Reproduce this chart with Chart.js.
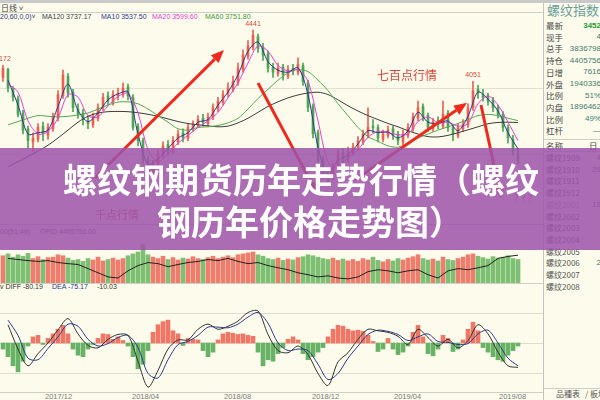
<!DOCTYPE html>
<html>
<head>
<meta charset="utf-8">
<script src="https://cdn.jsdelivr.net/npm/chart.js@4.4.1/dist/chart.umd.min.js"></script>
<style>
  body { margin: 0; background: #fdfcec; }
  #wrap { position: relative; width: 600px; height: 400px; overflow: hidden; background: #fdfcec;
          font-family: "Noto Sans CJK SC", "Liberation Sans", sans-serif; }
  canvas { position: absolute; left: 0; }
  .t { position: absolute; white-space: nowrap; line-height: 1; }
  .sm { font-family: "Liberation Sans", sans-serif; font-size: 7px; }
  .row { position: absolute; left: 546px; font-size: 8.5px; color: #4a4a4a; line-height: 1; white-space: nowrap; }
  .val { position: absolute; right: -1px; font-family: "Liberation Sans", sans-serif; font-size: 8px; color: #3f7b70; line-height: 1; text-align: right; }
  .line { position: absolute; background: #cfcfc4; }
  #banner { position: absolute; left: 0; top: 148px; width: 600px; height: 102px; background: rgba(158, 84, 170, 0.86); }
  .bt { position: absolute; color: #fff; font-weight: 700; font-size: 34px; line-height: 1; white-space: nowrap;
        font-family: "Noto Sans CJK SC", sans-serif; }
</style>
</head>
<body>
<div id="wrap">
  <!-- top bar + toolbar -->
  <div class="line" style="left:0;top:0;width:600px;height:3px;background:#c9c9c9"></div>
  <div class="t" style="left:1px;top:4px;font-size:8px;color:#444">日线 ˅</div>
  <div class="line" style="left:0;top:12px;width:543px;height:1px"></div>
  <div class="line" style="left:543px;top:3px;width:1px;height:397px;background:#c4c4ba"></div>

  <!-- MA legend -->
  <div class="t sm" style="left:0;top:13px;color:#34347a">20,60,0,0)˅</div>
  <div class="t sm" style="left:42px;top:13px;color:#3c3c50">MA120 3737.17</div>
  <div class="t sm" style="left:101px;top:13px;color:#2b3990">MA10 3537.50</div>
  <div class="t sm" style="left:152px;top:13px;color:#e040d8">MA20 3599.60</div>
  <div class="t sm" style="left:205px;top:13px;color:#3f9a44">MA60 3751.80</div>

  <canvas id="price" width="543" height="204" style="top:20px"></canvas>
  <div class="line" style="left:0;top:224px;width:543px;height:1px"></div>

  <!-- volume legend -->
  <div class="t sm" style="left:0;top:228px;color:#666">00(51:49)</div>
  <div class="t sm" style="left:40px;top:228px;color:#666">OPID 4405756.00</div>
  <canvas id="vol" width="543" height="47" style="top:236px"></canvas>
  <div class="line" style="left:0;top:283px;width:543px;height:1px"></div>

  <!-- MACD legend -->
  <div class="t sm" style="left:0;top:283px;color:#333">v DIFF -80.19</div>
  <div class="t sm" style="left:52px;top:283px;color:#2b3990">DEA -75.17</div>
  <div class="t sm" style="left:97px;top:283px;color:#333">-10.03</div>
  <canvas id="macd" width="543" height="102" style="top:290px"></canvas>
  <div class="line" style="left:0;top:392px;width:543px;height:1px"></div>
  <div id="dates"></div>

  <!-- right panel -->
  <div class="t" style="left:547px;top:3px;font-size:13px;color:#6b9c99">螺纹指数</div>
  <div id="panel"></div>
  <div class="line" style="left:544px;top:139px;width:56px;height:1px"></div>
  <div class="row" style="top:141px">名称</div>
  <div class="row" style="top:141px;left:589px">日</div>
  <div class="line" style="left:544px;top:151px;width:56px;height:1px"></div>
  <div id="contracts"></div>
  <div class="t" style="left:556px;top:390px;font-size:8px;color:#555">品種表</div>
  <div class="t" style="left:585px;top:390px;font-size:8px;color:#555">/ 板塊</div>
  <div class="line" style="left:544px;top:388px;width:56px;height:1px"></div>

  <div id="banner">
    <div class="bt" style="left:63px;top:14px">螺纹钢期货历年走势行情（螺纹</div>
    <div class="bt" style="left:157px;top:56px">钢历年价格走势图）</div>
  </div>
</div>

<script>
// candles, one per ~5 trading days
const open = [4080,4140,3990,3920,3810,3690,3590,3610,3710,3640,3690,3770,3940,4090,3970,3840,3810,3750,3720,3770,
  3850,3940,3890,3940,3950,4010,3930,3710,3600,3460,3370,3410,3490,3570,3520,3590,3660,3620,3690,3720,
  3770,3730,3780,3840,3890,3960,3990,4040,4140,4240,4310,4390,4310,4260,4160,4110,4160,4090,4150,4120,
  4170,4040,3860,3660,3460,3340,3330,3390,3510,3450,3510,3550,3590,3640,3710,3700,3610,3640,3690,3650,
  3590,3640,3690,3770,3860,3790,3690,3750,3710,3810,3700,3640,3690,3720,3850,3990,3950,3940,3910,3850,
  3800,3700,3610,3510];
const high = [4172,4150,4010,3940,3830,3710,3660,3730,3740,3730,3810,3980,4137,4110,3990,3880,3840,3790,3810,3880,
  3960,3970,3980,4000,4040,4030,3950,3730,3620,3480,3450,3530,3590,3600,3630,3680,3690,3730,3750,3790,
  3800,3810,3880,3930,3980,4040,4090,4190,4290,4360,4441,4410,4340,4280,4190,4190,4180,4170,4180,4230,
  4190,4060,3880,3680,3480,3390,3430,3530,3540,3550,3580,3630,3680,3850,3760,3720,3680,3710,3710,3670,
  3680,3730,3810,3900,3880,3810,3770,3780,3900,3830,3720,3730,3760,3880,4051,4020,3990,3960,3930,3870,
  3820,3720,3640,3540];
const low = [4050,3970,3900,3780,3650,3540,3520,3590,3600,3610,3670,3750,3920,3930,3820,3770,3720,3690,3700,3750,
  3830,3870,3870,3910,3930,3910,3680,3560,3420,3330,3340,3390,3470,3490,3500,3570,3590,3600,3670,3700,
  3710,3710,3760,3820,3870,3930,3970,4020,4120,4220,4290,4270,4210,4120,4080,4090,4060,4070,4100,4100,
  4020,3820,3620,3420,3310,3260,3300,3380,3420,3430,3490,3530,3570,3620,3660,3590,3590,3620,3610,3570,
  3570,3620,3670,3750,3750,3670,3670,3690,3690,3670,3600,3620,3670,3700,3830,3920,3900,3870,3820,3770,
  3670,3580,3490,3420];
const close = [4150,4000,3930,3800,3680,3600,3620,3700,3650,3700,3780,3950,4100,3960,3850,3800,3760,3730,3780,3850,
  3930,3900,3950,3960,4000,3940,3700,3600,3450,3380,3420,3500,3560,3520,3600,3650,3620,3700,3720,3760,
  3740,3780,3850,3900,3950,4000,4050,4150,4250,4320,4400,4300,4250,4150,4120,4150,4100,4140,4130,4180,
  4050,3850,3650,3450,3350,3320,3400,3500,3450,3520,3550,3600,3650,3700,3700,3620,3650,3680,3640,3600,
  3650,3700,3780,3850,3780,3700,3740,3720,3800,3700,3650,3700,3720,3850,3980,3960,3930,3900,3850,3800,
  3700,3620,3520,3452];
const volume = [58,62,55,60,57,63,52,56,50,54,55,60,58,53,48,50,46,52,49,55,
  47,50,53,49,52,58,62,66,83,60,55,52,57,50,54,49,53,51,56,52,
  50,54,57,52,55,58,54,60,62,64,66,60,57,52,50,53,48,51,49,54,
  56,60,58,55,52,50,53,48,51,47,50,46,52,49,55,48,45,50,47,52,
  49,53,56,60,52,49,51,47,55,50,48,52,55,60,62,57,54,51,56,53,
  55,58,52,50];

// moving averages and open interest, every second candle (candles 1, 3, 5 ... 103)
const ma10 = [4060,3870,3650,3660,3680,3860,4030,3830,3745,3810,3910,3955,3970,3650,3420,3460,3540,3620,3660,3740,
  3760,3870,3970,4100,4280,4350,4200,4135,4120,4155,3950,3550,3335,3450,3490,3575,3675,3660,3665,3620,
  3675,3815,3740,3730,3750,3675,3785,3970,3915,3825,3660,3537];
const ma20 = [4030,3970,3750,3650,3670,3770,3950,3930,3790,3780,3865,3935,3960,3810,3530,3440,3500,3580,3640,3700,
  3750,3815,3925,4040,4190,4320,4280,4170,4130,4140,4050,3750,3440,3390,3470,3530,3625,3670,3660,3645,
  3650,3745,3780,3735,3740,3710,3730,3880,3940,3870,3740,3600];
const ma60 = [3720,3745,3770,3790,3785,3780,3785,3795,3810,3840,3870,3893,3895,3880,3840,3790,3740,3690,3680,3700,
  3705,3715,3735,3770,3840,3920,3990,4060,4115,4140,4125,4060,3980,3880,3790,3700,3630,3595,3560,3550,
  3580,3620,3650,3680,3705,3730,3760,3790,3800,3790,3770,3752];
const ma120 = [3400,3440,3480,3520,3565,3620,3680,3740,3785,3810,3820,3822,3820,3812,3800,3785,3765,3745,3730,3720,
  3712,3705,3710,3735,3770,3815,3860,3895,3925,3947,3962,3968,3950,3910,3865,3825,3790,3760,3730,3705,
  3675,3650,3630,3628,3640,3660,3682,3705,3728,3738,3740,3737];
const openInt = [429,425,421,418,421,414,410,407,392,377,362,358,384,403,414,410,399,407,414,418,
  425,421,429,418,410,414,403,395,388,377,370,362,366,358,355,362,381,388,384,377,
  384,388,370,358,384,392,388,395,403,429,436,440.6];
const diff = [60,-20,-75,-35,0,43,80,30,-8,-16,12,28,25,-60,-145,-90,-20,10,10,45,
  62,45,55,72,100,105,28,-25,-32,-10,-38,-100,-140,-62,-32,12,45,40,35,22,
  -5,45,18,-10,12,-16,8,60,30,-30,-75,-80.19];
const dea = [75,25,-50,-55,-18,20,62,55,12,-10,-2,18,25,-15,-100,-115,-55,-5,5,25,
  52,52,50,62,85,100,65,0,-25,-20,-25,-70,-120,-100,-50,-10,28,42,38,28,
  8,20,30,5,2,-5,-2,30,42,0,-50,-75.17];
// MACD bars, one per candle
const macd = [-20,-45,-75,-95,-60,-10,20,25,-5,15,30,45,58,30,-20,-40,-45,-20,-5,15,
  30,28,12,20,8,-10,-45,-85,-70,-25,35,60,70,75,40,30,-8,15,12,10,
  -25,-45,-30,10,30,35,32,28,30,25,22,-30,-75,-55,-60,-35,-15,12,20,10,
  -35,-55,-45,-30,-15,20,45,58,55,45,40,42,38,25,5,-28,-20,15,-20,-38,
  -30,-10,35,58,20,-35,-42,-20,25,15,-28,-20,10,45,68,40,-15,-30,-45,-55,
  -60,-40,-25,-10.03];

const tickIdx = [11, 28.4, 46.8, 64.4, 80.8, 101.8];
const tickLabels = ['2017/12', '2018/04', '2018/08', '2018/12', '2019/04', '2019/08'];

// notes drawn on the price panel: [candle, price, text]
const peakNotes = [[0, 4172, '4172'], [50, 4441, '4441'], [94, 4051, '4051']];
const textNotes = [[80.8, 4099, '七百点行情', 12], [22.8, 3034, '千点行情', 11], [104, 3163, '? ? ?', 10]];
const arrows = [[18.4, 3316, 44.2, 4289], [51, 4038, 63, 3186], [70.4, 3300, 92.8, 3887], [95.6, 3871, 99.6, 3163]];

const panelLabels = ['最新', '现手', '总手', '持仓', '日增', '外盘', '比例', '内盘', '比例', '杠杆'];
const panelValues = ['3452', '4', '3836798', '4405756', '7616', '1940336', '51%', '1896462', '49%', '—'];
const contracts = ['螺纹1909', '螺纹1910', '螺纹1911', '螺纹1912', '螺纹2001', '螺纹2002', '螺纹2003', '螺纹2004',
  '螺纹2005', '螺纹2006', '螺纹2007', '螺纹2008'];
const contractValues = ['4', '29', '', '', '18', '', '', '', '', '2', '', ''];

const UP = '#ec6050';
const DOWN = '#4ea454';
const candleColors = close.map((c, i) => c >= open[i] ? UP : DOWN);
const volColors = close.map((c, i) => c >= open[i] ? '#ef7c6c' : '#7dbf73');

const idx = close.map((c, i) => i);
const everyOther = arr => arr.map((v, j) => ({ x: 2 * j + 1, y: v }));

const xScale = { type: 'linear', min: -0.6, max: 108, display: false, offset: false, grid: { offset: false } };
const baseOptions = {
  responsive: false,
  animation: false,
  events: [],
  layout: { padding: 0 },
  plugins: { legend: { display: false }, tooltip: { enabled: false } }
};

// horizontal guide lines at given values
function guideLines(id, values, color) {
  return {
    id: id,
    beforeDatasetsDraw(chart) {
      const { ctx, chartArea, scales } = chart;
      ctx.save();
      ctx.strokeStyle = color;
      ctx.lineWidth = 1;
      values.forEach(v => {
        const y = Math.round(scales.y.getPixelForValue(v)) + 0.5;
        ctx.beginPath();
        ctx.moveTo(chartArea.left, y);
        ctx.lineTo(chartArea.right, y);
        ctx.stroke();
      });
      ctx.restore();
    }
  };
}

function drawArrow(ctx, x1, y1, x2, y2) {
  const a = Math.atan2(y2 - y1, x2 - x1);
  const len = 13, w = 5.5;
  const bx = x2 - len * Math.cos(a), by = y2 - len * Math.sin(a);
  ctx.beginPath();
  ctx.moveTo(x1, y1);
  ctx.lineTo(bx, by);
  ctx.stroke();
  ctx.beginPath();
  ctx.moveTo(x2, y2);
  ctx.lineTo(bx + w * Math.sin(a), by - w * Math.cos(a));
  ctx.lineTo(bx - w * Math.sin(a), by + w * Math.cos(a));
  ctx.closePath();
  ctx.fill();
}

const notesPlugin = {
  id: 'notes',
  afterDatasetsDraw(chart) {
    const { ctx, scales: { x, y } } = chart;
    ctx.save();
    ctx.textAlign = 'center';
    ctx.textBaseline = 'middle';
    ctx.fillStyle = '#d8453a';
    ctx.font = '7px "Liberation Sans"';
    peakNotes.forEach(n => ctx.fillText(n[2], x.getPixelForValue(n[0]), y.getPixelForValue(n[1]) - 6));
    textNotes.forEach(n => {
      ctx.font = n[3] + 'px "Noto Sans CJK SC"';
      ctx.fillStyle = n[2] === '? ? ?' ? '#e0407a' : '#e0443a';
      ctx.fillText(n[2], x.getPixelForValue(n[0]), y.getPixelForValue(n[1]));
    });
    ctx.strokeStyle = '#ee2a1e';
    ctx.fillStyle = '#ee2a1e';
    ctx.lineWidth = 3;
    arrows.forEach(a => drawArrow(ctx, x.getPixelForValue(a[0]), y.getPixelForValue(a[1]),
      x.getPixelForValue(a[2]), y.getPixelForValue(a[3])));
    ctx.restore();
  }
};

function lineSet(data, color) {
  return { type: 'line', data: data, borderColor: color, borderWidth: 1, pointRadius: 0, tension: 0.3, fill: false };
}

// price panel
new Chart(document.getElementById('price'), {
  type: 'bar',
  data: {
    datasets: [
      lineSet(everyOther(ma10), '#2b3990'),
      lineSet(everyOther(ma20), '#e040d8'),
      lineSet(everyOther(ma60), '#52a852'),
      lineSet(everyOther(ma120), '#3c3c3c'),
      { type: 'bar', data: idx.map(i => ({ x: i, y: [open[i], close[i]] })), backgroundColor: candleColors,
        barThickness: 2, grouped: false, minBarLength: 1 },
      { type: 'bar', data: idx.map(i => ({ x: i, y: [low[i], high[i]] })), backgroundColor: candleColors,
        barThickness: 1, grouped: false }
    ]
  },
  options: Object.assign({}, baseOptions, {
    scales: { x: xScale, y: { display: false, min: 2966, max: 4517 } }
  }),
  plugins: [guideLines('g1', [3500, 4000], '#e2e0d0'), notesPlugin]
});

// volume panel
new Chart(document.getElementById('vol'), {
  type: 'bar',
  data: {
    datasets: [
      Object.assign(lineSet(everyOther(openInt), '#222'), { yAxisID: 'y2', tension: 0 }),
      { type: 'bar', data: idx.map(i => ({ x: i, y: volume[i] })), backgroundColor: volColors,
        barThickness: 4, grouped: false }
    ]
  },
  options: Object.assign({}, baseOptions, {
    scales: {
      x: xScale,
      y: { display: false, min: 0, max: 100 },
      y2: { display: false, min: 340, max: 510 }
    }
  })
});

// MACD panel
const macdChart = new Chart(document.getElementById('macd'), {
  type: 'bar',
  data: {
    datasets: [
      lineSet(everyOther(diff), '#333'),
      lineSet(everyOther(dea), '#2b3990'),
      { type: 'bar', data: idx.map(i => ({ x: i, y: macd[i] })),
        backgroundColor: macd.map(v => v >= 0 ? '#f07666' : '#67b264'), barThickness: 4, grouped: false }
    ]
  },
  options: Object.assign({}, baseOptions, {
    scales: { x: xScale, y: { display: false, min: -161, max: 174 } }
  }),
  plugins: [guideLines('g2', [-100, 0, 100], '#deddd0')]
});

// date labels placed with the MACD x scale
const dates = document.getElementById('dates');
tickIdx.forEach((v, k) => {
  const d = document.createElement('div');
  d.className = 't sm';
  d.style.color = '#7a7a7a';
  d.style.fontSize = '7.5px';
  d.style.top = '393px';
  d.style.left = (macdChart.scales.x.getPixelForValue(v) - 13) + 'px';
  d.textContent = tickLabels[k];
  dates.appendChild(d);
});

// right panel rows
const panel = document.getElementById('panel');
panelLabels.forEach((lab, k) => {
  const top = 21 + k * 11.7;
  const l = document.createElement('div');
  l.className = 'row';
  l.style.top = top + 'px';
  l.textContent = lab;
  panel.appendChild(l);
  const v = document.createElement('div');
  v.className = 'val';
  v.style.top = (top + 0.5) + 'px';
  if (k === 0) { v.style.color = '#1e9a38'; v.style.fontWeight = '700'; }
  v.textContent = panelValues[k];
  panel.appendChild(v);
});
const cl = document.getElementById('contracts');
contracts.forEach((c, k) => {
  const top = 154 + k * 11.7;
  const l = document.createElement('div');
  l.className = 'row';
  l.style.top = top + 'px';
  l.style.fontSize = '8px';
  l.style.color = k === 4 ? '#a0a0a0' : '#555';
  l.textContent = c;
  cl.appendChild(l);
  const v = document.createElement('div');
  v.className = 'val';
  v.style.top = top + 'px';
  v.textContent = contractValues[k];
  cl.appendChild(v);
});
</script>
</body>
</html>
